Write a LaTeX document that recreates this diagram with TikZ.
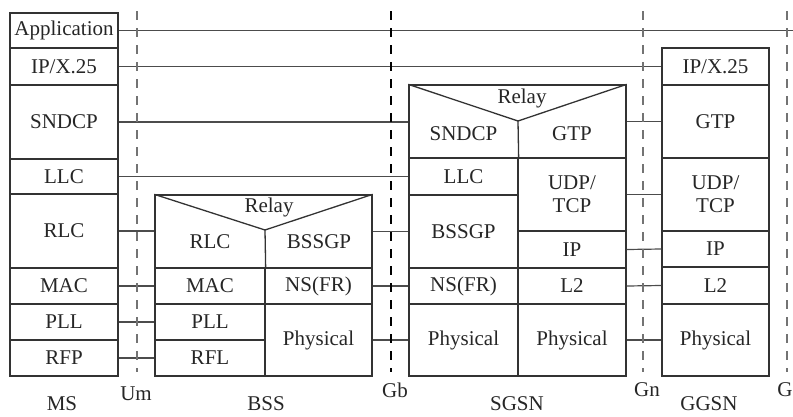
\documentclass[tikz,border=0pt]{standalone}
\usepackage{fontspec}
\setmainfont{Liberation Serif}

\tikzset{
  frame/.style={draw=black!80, line width=1.3pt},
  lbl/.style={inner sep=0pt, text=black!85, font=\fontsize{21}{23}\selectfont, align=center},
  cell/.style 2 args={frame, lbl, minimum width=#1pt, minimum height=#2pt},
  link/.style={draw=black!70, line width=1.2pt},
  iface/.style={draw=black!55, line width=1.4pt, dash pattern=on 9pt off 8pt}
}

\begin{document}
\begin{tikzpicture}[x=1pt,y=-1pt]
\useasboundingbox (0,0) rectangle (793,416);

% MS
\node[cell={108}{35}] (ms-app) at (64,30.5) {Application};
\node[cell={108}{37}] (ms-ip) at (64,66.5) {IP/X.25};
\node[cell={108}{74}] (ms-sndcp) at (64,122) {SNDCP};
\node[cell={108}{35}] (ms-llc) at (64,176.5) {LLC};
\node[cell={108}{74}] (ms-rlc) at (64,231) {RLC};
\node[cell={108}{36}] (ms-mac) at (64,286) {MAC};
\node[cell={108}{36}] (ms-pll) at (64,322) {PLL};
\node[cell={108}{36}] (ms-rfp) at (64,358) {RFP};

% BSS
\node[cell={217}{181}] (bss) at (263.5,285.5) {};
\coordinate (bss-apex) at (265,230);
\draw[frame] (bss.north west) -- (bss-apex) -- (bss.north east);
\node[lbl] (bss-relay) at (269,207) {Relay};
\node[lbl] (bss-rlc) at (210,242) {RLC};
\node[lbl] (bss-bssgp) at (319,242) {BSSGP};
\node[cell={110}{36}] (bss-mac) at (210,286) {MAC};
\node[cell={110}{36}] (bss-pll) at (210,322) {PLL};
\node[cell={110}{36}] (bss-rfl) at (210,358) {RFL};
\node[cell={107}{36}] (bss-ns) at (318.5,286) {NS(FR)};
\node[cell={107}{72}] (bss-phy) at (318.5,340) {Physical};
\draw[frame] (bss-apex) -- (bss-mac.north east);

% SGSN
\node[cell={217}{291}] (sgsn) at (517.5,230.5) {};
\coordinate (sgsn-apex) at (518,121);
\draw[frame] (sgsn.north west) -- (sgsn-apex) -- (sgsn.north east);
\node[lbl] (sgsn-relay) at (522,98) {Relay};
\node[lbl] (sgsn-sndcp) at (463.5,134) {SNDCP};
\node[lbl] (sgsn-gtp) at (572,134) {GTP};
\node[cell={109}{37}] (sgsn-llc) at (463.5,176.5) {LLC};
\node[cell={109}{73}] (sgsn-bssgp) at (463.5,231.5) {BSSGP};
\node[cell={109}{36}] (sgsn-ns) at (463.5,286) {NS(FR)};
\node[cell={109}{72}] (sgsn-phyl) at (463.5,340) {Physical};
\node[cell={108}{73}] (sgsn-udp) at (572,194.5) {UDP/\\TCP};
\node[cell={108}{37}] (sgsn-ip) at (572,249.5) {IP};
\node[cell={108}{36}] (sgsn-l2) at (572,286) {L2};
\node[cell={108}{72}] (sgsn-phyr) at (572,340) {Physical};
\draw[frame] (sgsn-apex) -- (sgsn-llc.north east);

% GGSN
\node[cell={107}{37}] (ggsn-ip) at (715.5,66.5) {IP/X.25};
\node[cell={107}{73}] (ggsn-gtp) at (715.5,121.5) {GTP};
\node[cell={107}{73}] (ggsn-udp) at (715.5,194.5) {UDP/\\TCP};
\node[cell={107}{36}] (ggsn-ip2) at (715.5,249) {IP};
\node[cell={107}{37}] (ggsn-l2) at (715.5,285.5) {L2};
\node[cell={107}{72}] (ggsn-phy) at (715.5,340) {Physical};

% peer links
\coordinate (app-end) at (793,30.5);
\draw[link] (ms-app.east) -- (app-end);
\draw[link] (ms-ip.east) -- (ggsn-ip.west);
\draw[link] (ms-sndcp.east) -- (ms-sndcp.east -| sgsn.west);
\draw[link] (ms-llc.east) -- (sgsn-llc.west);
\draw[link] (ms-rlc.east) -- (ms-rlc.east -| bss.west);
\draw[link] (ms-mac.east) -- (bss-mac.west);
\draw[link] (ms-pll.east) -- (bss-pll.west);
\draw[link] (ms-rfp.east) -- (bss-rfl.west);
\draw[link] (bss.east |- sgsn-bssgp.west) -- (sgsn-bssgp.west);
\draw[link] (bss-ns.east) -- (sgsn-ns.west);
\draw[link] (bss-phy.east) -- (sgsn-phyl.west);
\draw[link] (sgsn.east |- ggsn-gtp.west) -- (ggsn-gtp.west);
\draw[link] (sgsn-udp.east) -- (ggsn-udp.west);
\draw[link] (sgsn-ip.east) -- (ggsn-ip2.west);
\draw[link] (sgsn-l2.east) -- (ggsn-l2.west);
\draw[link] (sgsn-phyr.east) -- (ggsn-phy.west);

% interfaces
\coordinate (um-top) at (137,11);
\coordinate (um-bot) at (137,372);
\coordinate (gb-top) at (391,11);
\coordinate (gb-bot) at (391,372);
\coordinate (gn-top) at (643,11);
\coordinate (gn-bot) at (643,372);
\coordinate (gi-top) at (787,11);
\coordinate (gi-bot) at (787,372);
\draw[iface] (um-top) -- (um-bot);
\draw[iface, draw=black, line width=2pt] (gb-top) -- (gb-bot);
\draw[iface] (gn-top) -- (gn-bot);
\draw[iface] (gi-top) -- (gi-bot);
\node[lbl] (um) at (136,394) {Um};
\node[lbl] (gb) at (395,390) {Gb};
\node[lbl] (gn) at (647,390) {Gn};
\node[lbl] (gi) at (785,390) {G};

% entity names
\node[lbl] (ms-name) at (62,404) {MS};
\node[lbl] (bss-name) at (266,404) {BSS};
\node[lbl] (sgsn-name) at (517,404) {SGSN};
\node[lbl] (ggsn-name) at (709,404) {GGSN};

\end{tikzpicture}
\end{document}
